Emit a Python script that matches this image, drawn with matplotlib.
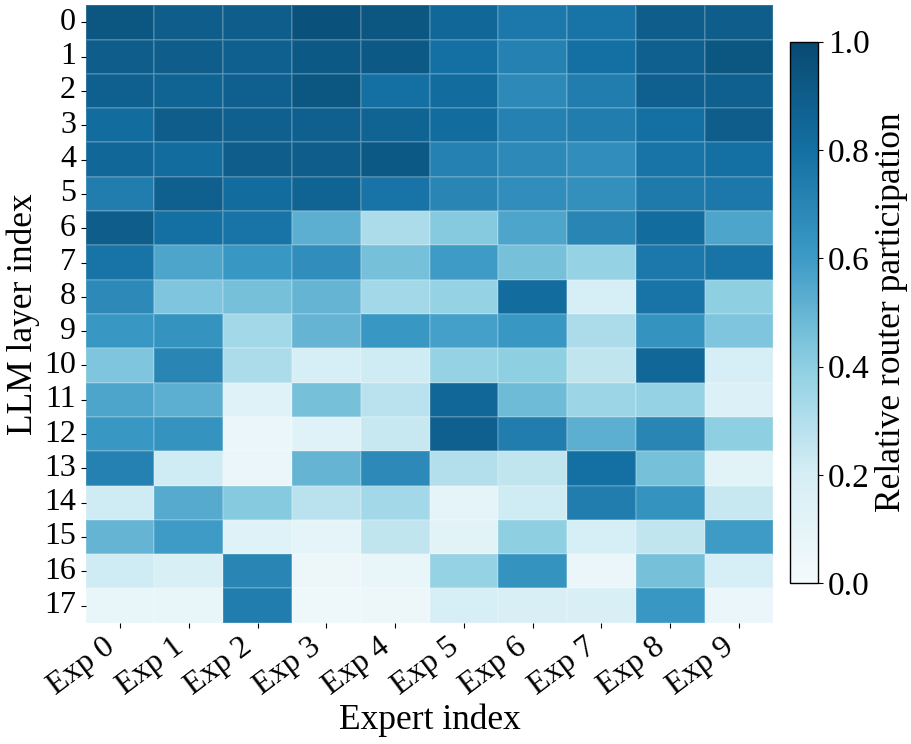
import matplotlib
matplotlib.use("Agg")
import matplotlib.pyplot as plt
from matplotlib.colors import LinearSegmentedColormap
import numpy as np
import seaborn as sns

plt.rcParams['font.family'] = ['Liberation Serif', 'DejaVu Serif']

experts = ["Exp %d" % i for i in range(10)]
layers = [str(i) for i in range(18)]

participation = [
    [0.93, 0.90, 0.90, 0.96, 0.93, 0.84, 0.76, 0.78, 0.90, 0.90],
    [0.90, 0.90, 0.88, 0.92, 0.92, 0.80, 0.72, 0.80, 0.88, 0.93],
    [0.88, 0.86, 0.88, 0.93, 0.80, 0.82, 0.68, 0.74, 0.88, 0.88],
    [0.82, 0.90, 0.88, 0.88, 0.86, 0.82, 0.72, 0.74, 0.80, 0.90],
    [0.84, 0.82, 0.90, 0.90, 0.92, 0.72, 0.68, 0.66, 0.78, 0.80],
    [0.74, 0.88, 0.82, 0.86, 0.78, 0.70, 0.66, 0.65, 0.75, 0.76],
    [0.90, 0.80, 0.78, 0.52, 0.32, 0.42, 0.56, 0.70, 0.82, 0.56],
    [0.78, 0.56, 0.62, 0.66, 0.46, 0.60, 0.46, 0.38, 0.76, 0.78],
    [0.68, 0.44, 0.46, 0.50, 0.34, 0.38, 0.82, 0.20, 0.78, 0.40],
    [0.62, 0.64, 0.34, 0.50, 0.62, 0.58, 0.62, 0.32, 0.64, 0.44],
    [0.44, 0.70, 0.32, 0.20, 0.22, 0.38, 0.40, 0.26, 0.84, 0.20],
    [0.56, 0.52, 0.14, 0.46, 0.28, 0.84, 0.48, 0.36, 0.38, 0.16],
    [0.62, 0.64, 0.07, 0.14, 0.24, 0.88, 0.74, 0.52, 0.70, 0.40],
    [0.72, 0.22, 0.07, 0.50, 0.68, 0.30, 0.26, 0.80, 0.46, 0.12],
    [0.22, 0.54, 0.42, 0.28, 0.34, 0.10, 0.22, 0.74, 0.64, 0.24],
    [0.50, 0.60, 0.14, 0.10, 0.26, 0.12, 0.40, 0.20, 0.26, 0.60],
    [0.22, 0.18, 0.70, 0.05, 0.08, 0.38, 0.64, 0.06, 0.46, 0.20],
    [0.08, 0.08, 0.74, 0.04, 0.05, 0.20, 0.18, 0.18, 0.62, 0.06],
]

cmap = LinearSegmentedColormap.from_list(
    "router", ["#f4fafc", "#d6eef5", "#8ecfe2", "#3d9bc6", "#1470a3", "#084a72"])

fig = plt.figure(figsize=(9.12, 7.44), dpi=100)
ax = fig.add_axes([0.094, 0.163, 0.754, 0.83])
cax = fig.add_axes([0.866, 0.216, 0.031, 0.728])

sns.heatmap(np.array(participation), ax=ax, cbar_ax=cax, cmap=cmap,
            vmin=0, vmax=1, linewidths=0.3, linecolor=(1, 1, 1, 0.15),
            xticklabels=experts, yticklabels=layers)

ax.set_xlabel('Expert index', fontsize=25.5, labelpad=2)
ax.set_ylabel('LLM layer index', fontsize=25.5, labelpad=3)
ax.tick_params(axis='both', labelsize=23)
plt.setp(ax.get_xticklabels(), rotation=37, ha='right')
plt.setp(ax.get_yticklabels(), rotation=0)

cbar = ax.collections[0].colorbar
cbar.outline.set_visible(True)
cbar.outline.set_edgecolor('black')
cbar.outline.set_linewidth(1)
cbar.set_ticks([0, 0.2, 0.4, 0.6, 0.8, 1.0])
cbar.ax.tick_params(labelsize=24)
cbar.set_label('Relative router participation', fontsize=25.5)

fig.savefig('out.png', dpi=100)
